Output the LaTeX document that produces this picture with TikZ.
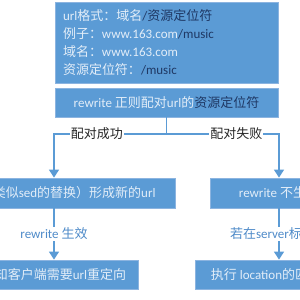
\documentclass[tikz,border=0pt]{standalone}
\usepackage{fontspec}
\setmainfont{Noto Sans CJK SC}
\newfontfamily\latinfont{Carlito}
\newcommand\entext[1]{{\latinfont #1}}
\usetikzlibrary{arrows.meta}
\definecolor{boxblue}{HTML}{5B9BD5}
\definecolor{boxedge}{HTML}{8CB4E0}
\definecolor{lighttext}{HTML}{E2EDF8}
\definecolor{darktext}{HTML}{1F3864}
\definecolor{labeltext}{HTML}{262626}
\definecolor{edgetext}{HTML}{4F8BC9}

\begin{document}
\begin{tikzpicture}[x=1pt, y=-1pt, font=\fontsize{13}{18}\selectfont,
    box/.style={draw=boxedge, fill=boxblue, text=lighttext, line width=0.8pt, inner sep=0pt},
    arr/.style={draw=boxblue, line width=1.5pt, -{Triangle[width=10pt,length=8pt]}},
    link/.style={draw=boxblue, line width=1.5pt},
    lab/.style={fill=white, inner sep=1pt, text=labeltext},
    elab/.style={fill=white, inner sep=1pt, text=edgetext}]
        \useasboundingbox (0,0) rectangle (300,300);
        \clip (0,0) rectangle (300,300);
        % Define the nodes
        \node[box, minimum width=223pt, minimum height=81pt, align=left, text width=207pt] (url) at (166.5,42.5)
            {\entext{url}格式：域名\textcolor{darktext}{\entext{/}资源定位符}\\
             例子：\entext{www.163.com}\textcolor{darktext}{\entext{/music}}\\
             域名：\entext{www.163.com}\\
             资源定位符：\textcolor{darktext}{\entext{/music}}};
        \node[box, minimum width=223pt, minimum height=29pt] (match) at (166.5,102.5)
            {\entext{rewrite }正则配对\entext{url}的\textcolor{darktext}{资源定位符}};
        \node[box, minimum width=242pt, minimum height=30pt] (ok) at (54,193)
            {将\entext{url}（类似\entext{sed}的替换）形成新的\entext{url}};
        \node[box, minimum width=168pt, minimum height=29pt] (redirect) at (54,274.5)
            {通知客户端需要\entext{url}重定向};
        \node[box, minimum width=138pt, minimum height=30pt] (fail) at (279,193)
            {\entext{rewrite }不生效};
        \node[box, minimum width=168pt, minimum height=29pt] (loc) at (279,274.5)
            {执行\entext{ location}的匹配规则};
        \coordinate (split) at (166.5,134);

        % Connect them
        \draw[link] (match) -- (split);
        \draw[arr] (split) -| node[lab, pos=0.31] {配对成功} (ok);
        \draw[arr] (split) -| node[lab, pos=0.31] {配对失败} (fail);
        \draw[arr] (ok) -- node[elab] {\entext{rewrite }生效} (redirect);
        \draw[arr] (fail) -- node[elab] {若在\entext{server}标签中} (loc);
    \end{tikzpicture}
\end{document}
